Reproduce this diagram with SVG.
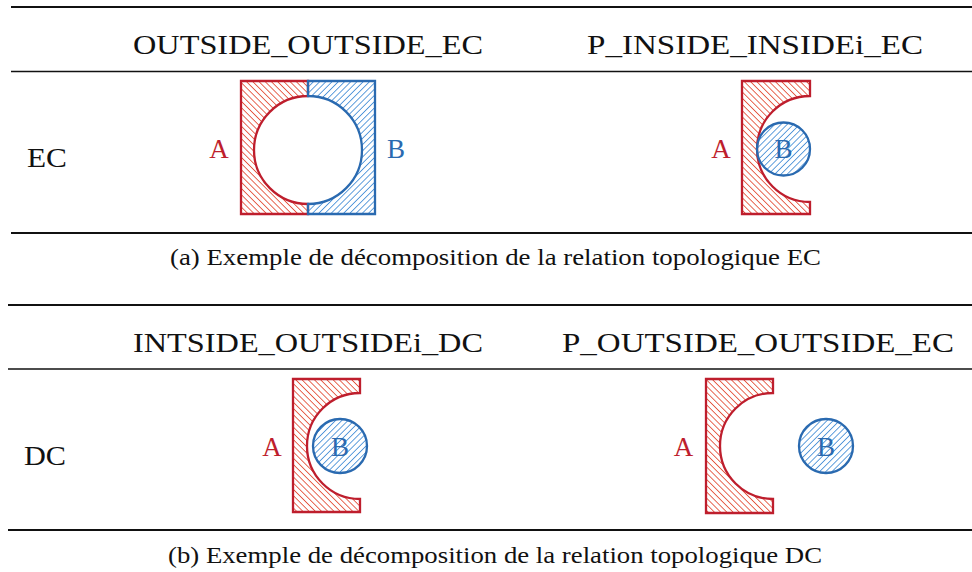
<svg xmlns="http://www.w3.org/2000/svg" width="972" height="572" viewBox="0 0 972 572">
<defs>
<pattern id="hatchRed" patternUnits="userSpaceOnUse" width="4.4" height="10" patternTransform="rotate(-45)">
<line x1="2.2" y1="0" x2="2.2" y2="10" stroke="#E4553F" stroke-width="0.9"/>
</pattern>
<pattern id="hatchBlue" patternUnits="userSpaceOnUse" width="4.4" height="10" patternTransform="rotate(45)">
<line x1="2.2" y1="0" x2="2.2" y2="10" stroke="#4D93D8" stroke-width="0.9"/>
</pattern>
<style>
.rule-thick{stroke:#111;stroke-width:2.2;}
.rule-thin{stroke:#111;stroke-width:1.3;}
.hdr{font-family:"Liberation Serif", serif;font-size:27.5px;fill:#111;}
.cap{font-family:"Liberation Serif", serif;font-size:23px;fill:#111;}
.lblA{font-family:"Liberation Serif", serif;font-size:27px;fill:#BE1E2D;}
.lblB{font-family:"Liberation Serif", serif;font-size:27px;fill:#2A6AB0;}
.regA{fill:url(#hatchRed);stroke:#BE1E2D;stroke-width:2.3;stroke-linejoin:miter;}
.regB{fill:url(#hatchBlue);stroke:#2A6AB0;stroke-width:2.3;stroke-linejoin:miter;}
</style>
</defs>
<rect width="972" height="572" fill="#fff"/>

<!-- table rules -->
<line class="rule-thick" x1="11" y1="7" x2="972" y2="7"/>
<line class="rule-thin" x1="11" y1="71.5" x2="972" y2="71.5"/>
<line class="rule-thick" x1="11" y1="233" x2="972" y2="233"/>
<line class="rule-thick" x1="8" y1="305" x2="972" y2="305"/>
<line class="rule-thin" x1="8" y1="369" x2="972" y2="369"/>
<line class="rule-thick" x1="8" y1="530" x2="972" y2="530"/>

<!-- headers and captions -->
<text class="hdr" x="133" y="54" textLength="350" lengthAdjust="spacingAndGlyphs">OUTSIDE_OUTSIDE_EC</text>
<text class="hdr" x="587" y="54" textLength="336" lengthAdjust="spacingAndGlyphs">P_INSIDE_INSIDEi_EC</text>
<text class="hdr" x="27" y="167" textLength="40" lengthAdjust="spacingAndGlyphs">EC</text>
<text class="cap" x="170" y="265" textLength="651" lengthAdjust="spacingAndGlyphs">(a) Exemple de décomposition de la relation topologique EC</text>
<text class="hdr" x="133" y="352" textLength="350" lengthAdjust="spacingAndGlyphs">INTSIDE_OUTSIDEi_DC</text>
<text class="hdr" x="562" y="352" textLength="392" lengthAdjust="spacingAndGlyphs">P_OUTSIDE_OUTSIDE_EC</text>
<text class="hdr" x="24" y="465" textLength="42" lengthAdjust="spacingAndGlyphs">DC</text>
<text class="cap" x="168" y="563" textLength="654" lengthAdjust="spacingAndGlyphs">(b) Exemple de décomposition de la relation topologique DC</text>

<!-- Shape 1: OUTSIDE_OUTSIDE_EC -->
<g id="ec1-A">
<path class="regA" d="M308,81 H241 V214 H308 V204 A54,54 0 0 1 308,96 Z"/>
<text class="lblA" x="219" y="158" text-anchor="middle">A</text>
</g>
<g id="ec1-B">
<path class="regB" d="M308,81 H375 V214 H308 V204 A54,54 0 0 0 308,96 Z"/>
<text class="lblB" x="396" y="158" text-anchor="middle">B</text>
</g>

<!-- Shape 2: P_INSIDE_INSIDEi_EC -->
<g id="ec2-A">
<path class="regA" d="M742,81 H810 V96 A53,53 0 0 0 810,202 V214 H742 Z"/>
<text class="lblA" x="721" y="158" text-anchor="middle">A</text>
</g>
<g id="ec2-B">
<circle class="regB" cx="783.5" cy="149" r="26.5"/>
<text class="lblB" x="783.5" y="158" text-anchor="middle">B</text>
</g>

<!-- Shape 3: INTSIDE_OUTSIDEi_DC -->
<g id="dc1-A">
<path class="regA" d="M293,379 H360 V393 A53,53 0 0 0 360,499 V512 H293 Z"/>
<text class="lblA" x="272" y="456" text-anchor="middle">A</text>
</g>
<g id="dc1-B">
<circle class="regB" cx="340" cy="446" r="27"/>
<text class="lblB" x="340" y="456" text-anchor="middle">B</text>
</g>

<!-- Shape 4: P_OUTSIDE_OUTSIDE_EC -->
<g id="dc2-A">
<path class="regA" d="M706,379 H773 V393 A53,53 0 0 0 773,499 V513 H706 Z"/>
<text class="lblA" x="683.5" y="456" text-anchor="middle">A</text>
</g>
<g id="dc2-B">
<circle class="regB" cx="826" cy="446" r="27"/>
<text class="lblB" x="826" y="456" text-anchor="middle">B</text>
</g>

<g id="connectors"/>
</svg>
